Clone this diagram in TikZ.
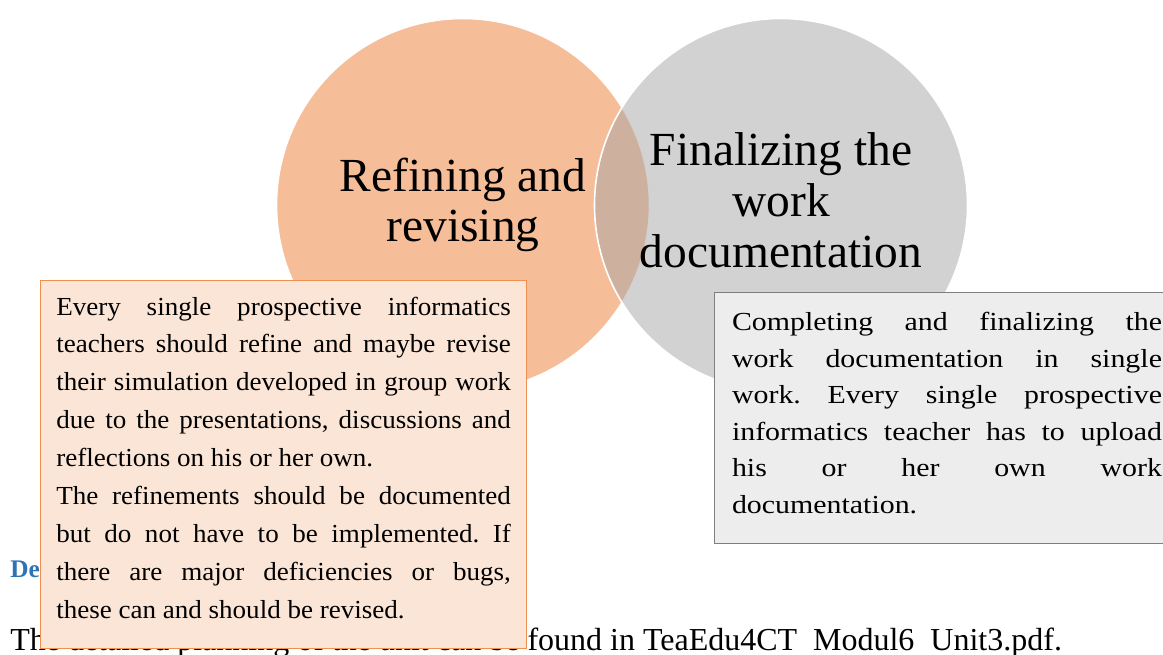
\documentclass[tikz,border=0pt]{standalone}
\usepackage{fontspec}
\setmainfont{Liberation Serif}
\newfontfamily\lboxfont[FakeStretch=1.04]{Liberation Serif}
\newfontfamily\gboxfont[FakeStretch=1.15]{Liberation Serif}
\usetikzlibrary{positioning}
\definecolor{vennOrange}{HTML}{ED7D31}
\definecolor{vennGrey}{HTML}{A5A5A5}
\definecolor{noteOrange}{HTML}{FBE5D6}
\definecolor{noteGrey}{HTML}{EDEDED}
\definecolor{noteEdge}{HTML}{7F7F7F}
\definecolor{headBlue}{HTML}{2E74B5}
\newcommand{\lfill}[1]{\makebox[341pt][s]{#1}}
\newcommand{\gfill}[1]{\makebox[322.5pt][s]{#1}}
\newcommand{\lowbar}{\raisebox{-3pt}{\_}}
\frenchspacing

\begin{document}
\begin{tikzpicture}[x=0.75pt, y=-0.75pt,
    venn/.style={circle, draw=white, line width=1.2pt, fill opacity=0.5, text opacity=1,
      minimum size=279.75pt, inner sep=0pt, align=center, font=\fontsize{35.6}{38}\selectfont},
    notebox/.style={rectangle, line width=1.1pt, inner sep=0pt, anchor=north west},
    notetext/.style={anchor=north west, inner sep=0pt, align=left}]
  \useasboundingbox (0,0) rectangle (1163,655);
  % venn circles
  \node[venn, fill=vennOrange] (refine) at (463,205) {Refining and\\revising};
  \node[venn, fill=vennGrey] (final) at (781,205) {Finalizing the\\work\\documentation\vphantom{g}};
  % page text behind the notes
  \node[anchor=base west, inner sep=0pt, text=headBlue, font=\bfseries\fontsize{19}{22}\selectfont] (head) at (10,577) {De};
  \node[anchor=base west, inner sep=0pt, font=\fontsize{24}{27}\selectfont] (plan) at (10,650)
    {The detailed planning of the unit can be found in TeaEdu4CT\lowbar Modul6\lowbar Unit3.pdf.};
  % notes
  \node[notebox, draw=vennOrange!85, fill=noteOrange, minimum width=364.5pt, minimum height=276pt] (lbox) at (40,280) {};
  \node[notetext, font=\lboxfont\fontsize{19.5}{28.4}\selectfont] (ltext) at ([xshift=12pt, yshift=-12.4pt]lbox.north west)
    {\lfill{Every single prospective informatics}\\
     \lfill{teachers should refine and maybe revise}\\
     \lfill{their simulation developed in group work}\\
     \lfill{due to the presentations, discussions and}\\
     reflections on his or her own.\\
     \lfill{The refinements should be documented}\\
     \lfill{but do not have to be implemented. If}\\
     \lfill{there are major deficiencies or bugs,}\\
     these can and should be revised.};
  \node[notebox, draw=noteEdge, fill=noteGrey, minimum width=352.5pt, minimum height=188.25pt] (gbox) at (714,292) {};
  \node[notetext, font=\gboxfont\fontsize{19.5}{27.4}\selectfont] (gtext) at ([xshift=13.3pt, yshift=-15.2pt]gbox.north west)
    {\gfill{Completing and finalizing the}\\
     \gfill{work documentation in single}\\
     \gfill{work. Every single prospective}\\
     \gfill{informatics teacher has to upload}\\
     \gfill{his or her own work}\\
     documentation.};
\end{tikzpicture}
\end{document}
